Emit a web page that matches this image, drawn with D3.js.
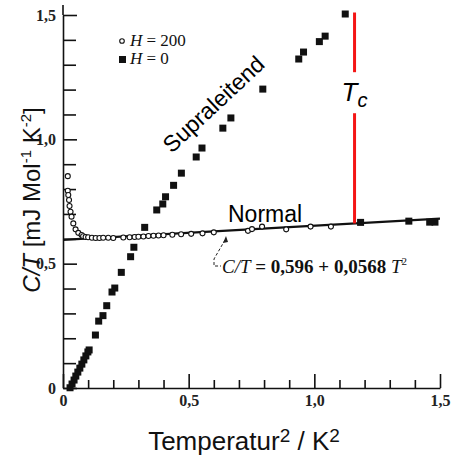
<!DOCTYPE html>
<html>
<head>
<meta charset="utf-8">
<script src="https://cdn.jsdelivr.net/npm/d3@7"></script>
<style>
  body { margin: 0; background: #fff; }
  svg { display: block; }
</style>
</head>
<body>
<svg id="chart" width="453" height="460"></svg>
<script>
// H = 0 (supraleitend, then normal above Tc) -- T^2 in K^2, C/T in mJ/(Mol K^2)
var h0T2 = [0.028, 0.036, 0.044, 0.051, 0.059, 0.067, 0.075, 0.083, 0.091, 0.099, 0.104,
            0.129, 0.142, 0.159, 0.174, 0.195, 0.206, 0.232, 0.269, 0.282, 0.325, 0.373,
            0.397, 0.408, 0.440, 0.471, 0.530, 0.553, 0.636, 0.668, 0.795, 0.938, 0.957,
            1.020, 1.043, 1.123, 1.184, 1.376, 1.459, 1.480];
var h0CT = [0.001, 0.016, 0.032, 0.048, 0.064, 0.080, 0.096, 0.113, 0.129, 0.145, 0.153,
            0.213, 0.269, 0.291, 0.331, 0.386, 0.402, 0.465, 0.528, 0.566, 0.646, 0.716,
            0.740, 0.769, 0.815, 0.864, 0.929, 0.965, 1.045, 1.086, 1.202, 1.323, 1.351,
            1.393, 1.415, 1.504, 0.666, 0.671, 0.667, 0.667];

// H = 200 (normal state)
var h200T2 = [0.019, 0.019, 0.021, 0.024, 0.026, 0.030, 0.034, 0.041, 0.050, 0.061, 0.074,
              0.080, 0.090, 0.100, 0.115, 0.130, 0.145, 0.160, 0.180, 0.200, 0.240, 0.265,
              0.285, 0.300, 0.320, 0.340, 0.360, 0.380, 0.400, 0.435, 0.470, 0.510, 0.555,
              0.600, 0.736, 0.752, 0.792, 0.888, 0.985, 1.066];
var h200CT = [0.852, 0.793, 0.776, 0.756, 0.732, 0.709, 0.689, 0.662, 0.638, 0.624, 0.615,
              0.610, 0.607, 0.606, 0.604, 0.603, 0.603, 0.604, 0.604, 0.603, 0.605, 0.606,
              0.607, 0.608, 0.609, 0.611, 0.612, 0.613, 0.614, 0.616, 0.618, 0.620, 0.622,
              0.626, 0.632, 0.639, 0.649, 0.638, 0.649, 0.649];

// fit C/T = a + b T^2 and transition
var fitA = 0.596, fitB = 0.0568;
var tc2 = 1.16;

var majorTicks = [0, 0.5, 1.0, 1.5];
var minorTicks = [0.1, 0.2, 0.3, 0.4, 0.6, 0.7, 0.8, 0.9, 1.1, 1.2, 1.3, 1.4];

window.onload = function() {
   drawChart();
};

function fmt(d) {
   return d === 0 ? "0" : d.toFixed(1).replace(".", ",");
}

function drawChart() {
   var svg = d3.select("#chart");
   var x = d3.scaleLinear().domain([0, 1.5]).range([63, 440]);
   var y = d3.scaleLinear().domain([0, 1.5]).range([388, 15]);
   var serif = "'Liberation Serif', 'DejaVu Serif', serif";
   var sans = "'Liberation Sans', Arial, sans-serif";

   // y axis
   var yAxis = svg.append("g").attr("transform", "translate(" + x(0) + ",0)");
   yAxis.call(d3.axisLeft(y).tickValues(majorTicks).tickSizeInner(-14).tickSizeOuter(0)
         .tickPadding(7).tickFormat(fmt));
   yAxis.append("g").call(d3.axisLeft(y).tickValues(minorTicks).tickSizeInner(-13)
         .tickSizeOuter(0).tickFormat(""))
      .select(".domain").remove();
   yAxis.append("line").attr("x1", 0).attr("x2", 0).attr("y1", y(1.5)).attr("y2", 5);

   // x axis
   var xAxis = svg.append("g").attr("transform", "translate(0," + y(0) + ")");
   xAxis.call(d3.axisBottom(x).tickValues(majorTicks).tickSizeInner(-14).tickSizeOuter(0)
         .tickPadding(7).tickFormat(fmt));
   xAxis.append("g").call(d3.axisBottom(x).tickValues(minorTicks).tickSizeInner(-8)
         .tickSizeOuter(0).tickFormat(""))
      .select(".domain").remove();

   svg.selectAll(".domain, .tick line, g > line")
      .attr("stroke", "#111").attr("stroke-width", 1.6);
   svg.selectAll(".tick text")
      .attr("font-family", serif).attr("font-size", 16).attr("font-weight", "bold")
      .attr("fill", "#222");

   // fit line
   var fit = function(t) { return fitA + fitB * t; };
   svg.append("line")
      .attr("x1", x(0)).attr("y1", y(fit(0)))
      .attr("x2", x(1.5)).attr("y2", y(fit(1.5)))
      .attr("stroke", "#111").attr("stroke-width", 2.2);

   // H = 200 open circles
   svg.append("g").selectAll("circle")
      .data(h200T2)
      .enter().append("circle")
      .attr("cx", function(d) { return x(d); })
      .attr("cy", function(d, i) { return y(h200CT[i]); })
      .attr("r", 2.5)
      .attr("fill", "#fff")
      .attr("stroke", "#111")
      .attr("stroke-width", 1.1);

   // H = 0 filled squares
   var s = 7;
   svg.append("g").selectAll("rect")
      .data(h0T2)
      .enter().append("rect")
      .attr("x", function(d) { return x(d) - s / 2; })
      .attr("y", function(d, i) { return y(h0CT[i]) - s / 2; })
      .attr("width", s).attr("height", s)
      .attr("fill", "#111");

   // red Tc marker, with gap for label
   var red = "#f41515";
   svg.append("line")
      .attr("x1", x(tc2)).attr("x2", x(tc2))
      .attr("y1", y(1.51)).attr("y2", y(1.27))
      .attr("stroke", red).attr("stroke-width", 3);
   svg.append("line")
      .attr("x1", x(tc2)).attr("x2", x(tc2))
      .attr("y1", y(1.105)).attr("y2", y(fit(tc2)))
      .attr("stroke", red).attr("stroke-width", 3);
   var tcText = svg.append("text")
      .attr("x", x(tc2) - 13).attr("y", y(1.19) + 9)
      .attr("font-family", sans).attr("font-size", 26).attr("font-style", "italic");
   tcText.append("tspan").text("T");
   tcText.append("tspan").attr("dy", 6).attr("font-size", 20).text("c");

   // legend
   svg.append("circle").attr("cx", 122).attr("cy", 41).attr("r", 2.3)
      .attr("fill", "#fff").attr("stroke", "#111").attr("stroke-width", 1.1);
   svg.append("rect").attr("x", 119).attr("y", 56).attr("width", 7).attr("height", 7)
      .attr("fill", "#111");
   var leg1 = svg.append("text").attr("x", 130).attr("y", 46)
      .attr("font-family", serif).attr("font-size", 17).attr("fill", "#111");
   leg1.append("tspan").attr("font-style", "italic").text("H");
   leg1.append("tspan").text(" = 200");
   var leg2 = svg.append("text").attr("x", 130).attr("y", 64)
      .attr("font-family", serif).attr("font-size", 17).attr("fill", "#111");
   leg2.append("tspan").attr("font-style", "italic").text("H");
   leg2.append("tspan").text(" = 0");

   // curve labels
   svg.append("text")
      .attr("transform", "translate(219,110) rotate(-43)")
      .attr("text-anchor", "middle")
      .attr("font-family", sans).attr("font-size", 23)
      .text("Supraleitend");
   svg.append("text")
      .attr("x", 228).attr("y", 222)
      .attr("font-family", sans).attr("font-size", 23)
      .text("Normal");

   // fit annotation with dashed leader
   svg.append("path")
      .attr("d", "M225,240 L214,259 L214,266 L221,266")
      .attr("fill", "none").attr("stroke", "#222").attr("stroke-width", 1)
      .attr("stroke-dasharray", "3,2");
   svg.append("path")
      .attr("d", "M226,236 L223,243 L228,242 Z")
      .attr("fill", "#222");
   var eq = svg.append("text").attr("x", 222).attr("y", 273)
      .attr("font-family", serif).attr("font-size", 19).attr("fill", "#111");
   eq.append("tspan").attr("font-style", "italic").text("C/T");
   eq.append("tspan").attr("font-weight", "bold").text(" = 0,596 + 0,0568 ");
   eq.append("tspan").attr("font-style", "italic").text("T");
   eq.append("tspan").attr("dy", -8).attr("font-size", 11).text("2");

   // axis titles
   var yt = svg.append("text")
      .attr("transform", "translate(40,200) rotate(-90)")
      .attr("text-anchor", "middle")
      .attr("font-family", sans).attr("font-size", 24).attr("fill", "#111");
   yt.append("tspan").attr("font-style", "italic").text("C/T");
   yt.append("tspan").text(" [mJ Mol");
   yt.append("tspan").attr("dy", -9).attr("font-size", 15).text("-1");
   yt.append("tspan").attr("dy", 9).text(" K");
   yt.append("tspan").attr("dy", -9).attr("font-size", 15).text("-2");
   yt.append("tspan").attr("dy", 9).text("]");

   var xt = svg.append("text")
      .attr("x", 244).attr("y", 450)
      .attr("text-anchor", "middle")
      .attr("font-family", sans).attr("font-size", 26).attr("fill", "#111");
   xt.append("tspan").text("Temperatur");
   xt.append("tspan").attr("dy", -8).attr("font-size", 19).text("2");
   xt.append("tspan").attr("dy", 8).text(" / K");
   xt.append("tspan").attr("dy", -8).attr("font-size", 19).text("2");
}
</script>
</body>
</html>
